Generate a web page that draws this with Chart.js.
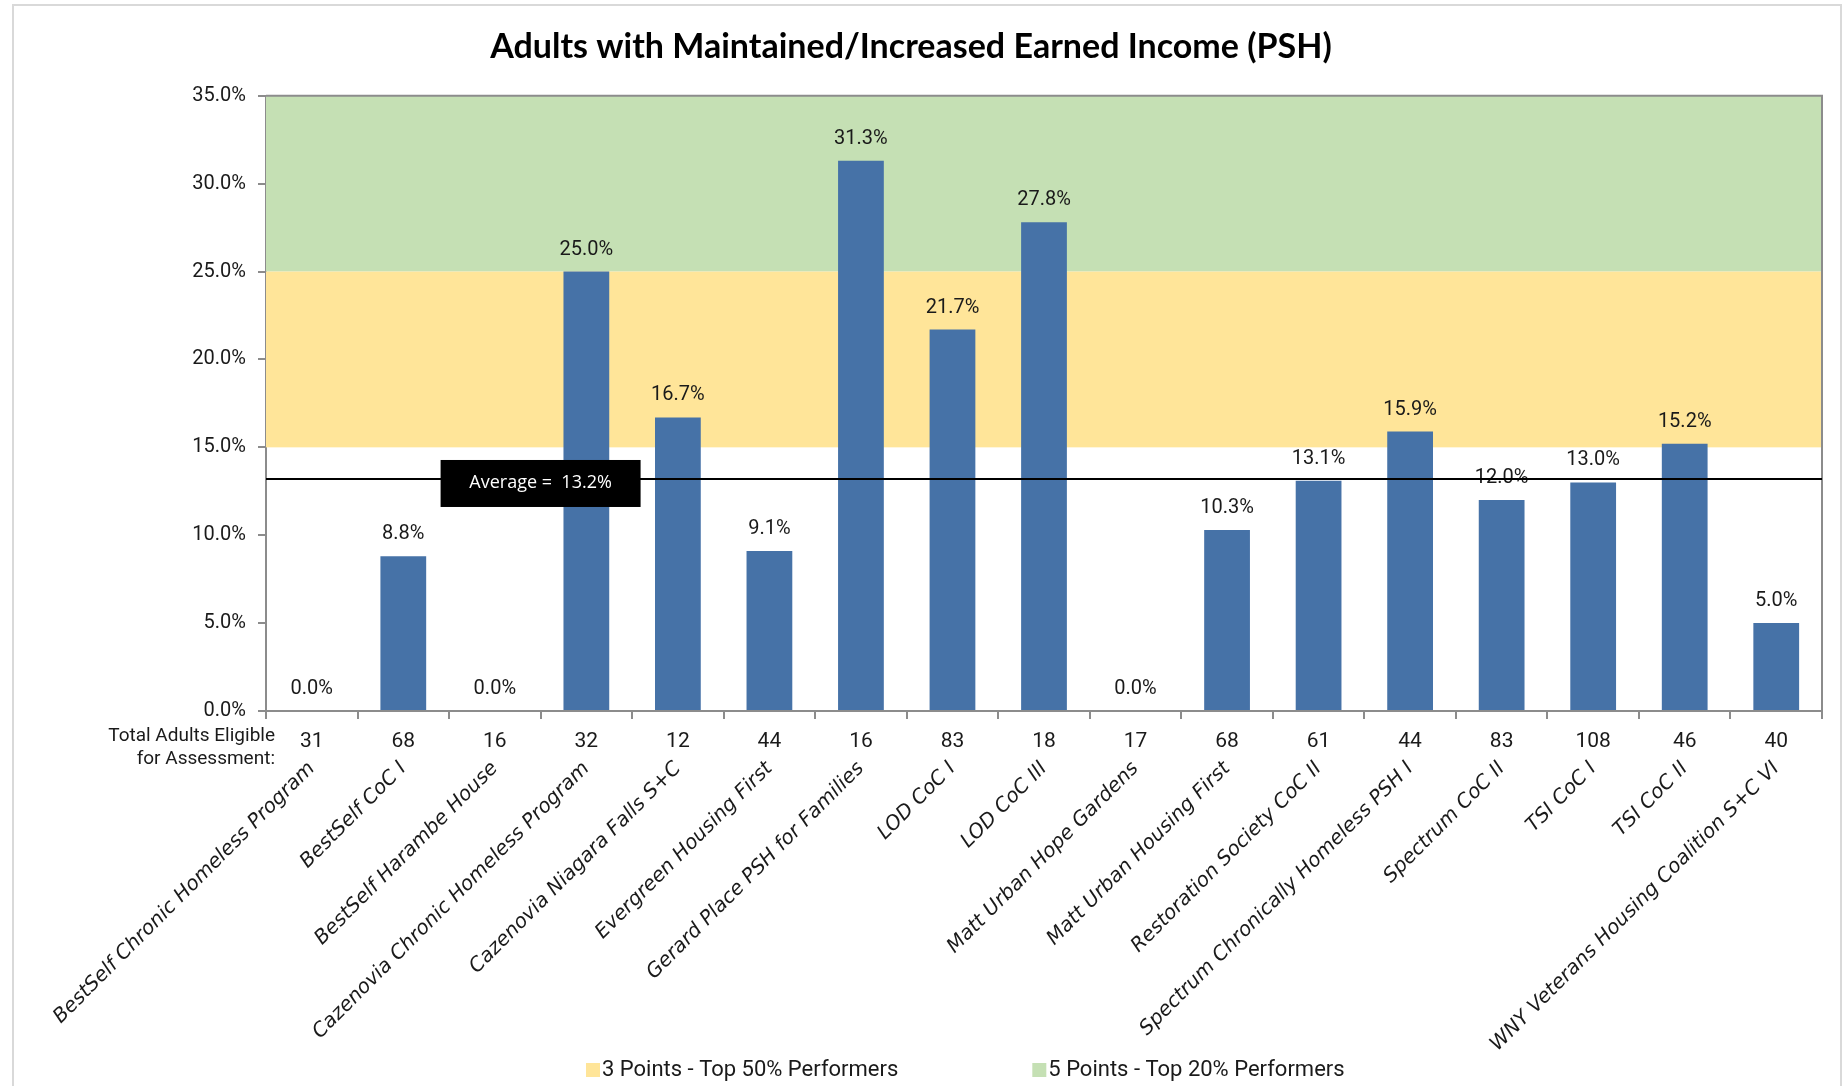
<!DOCTYPE html>
<html>
<head>
<meta charset="utf-8">
<title>Adults with Maintained/Increased Earned Income (PSH)</title>
<script src="https://cdn.jsdelivr.net/npm/chart.js@4.4.1/dist/chart.umd.min.js"></script>
<style>
    html, body { margin: 0; padding: 0; background: #ffffff; }
    canvas { display: block; }
</style>
</head>
<body>
<canvas id="incomeChart" width="1845" height="1086"></canvas>
<script>
const programs = [
    "BestSelf Chronic Homeless Program",
    "BestSelf CoC I",
    "BestSelf Harambe House",
    "Cazenovia Chronic Homeless Program",
    "Cazenovia Niagara Falls S+C",
    "Evergreen Housing First",
    "Gerard Place PSH for Families",
    "LOD CoC I",
    "LOD CoC III",
    "Matt Urban Hope Gardens",
    "Matt Urban Housing First",
    "Restoration Society CoC II",
    "Spectrum Chronically Homeless PSH I",
    "Spectrum CoC II",
    "TSI CoC I",
    "TSI CoC II",
    "WNY Veterans Housing Coalition S+C VI"
];

const earnedIncomePct = [0.0, 8.8, 0.0, 25.0, 16.7, 9.1, 31.3, 21.7, 27.8, 0.0, 10.3, 13.1, 15.9, 12.0, 13.0, 15.2, 5.0];

const adultsEligible = [31, 68, 16, 32, 12, 44, 16, 83, 18, 17, 68, 61, 44, 83, 108, 46, 40];

const averagePct = 13.2;
const top50Threshold = 15;
const top20Threshold = 25;
const yMax = 35;
const yStep = 5;

const legendLabels = ["3 Points - Top 50% Performers", "5 Points - Top 20% Performers"];


const YELLOW = "#FFE599";
const GREEN = "#C5E0B4";
const BAR_BLUE = "#4672A7";
const AXIS_GREY = "#8C8C8C";
const TEXT = "#1A1A1A";
const FONT = "Roboto, 'Liberation Sans', sans-serif";


// performance bands behind the bars
const bandsPlugin = {
    id: "bands",
    beforeDatasetsDraw: function (chart) {
        const ctx = chart.ctx;
        const area = chart.chartArea;
        const y = chart.scales.y;

        ctx.save();
        ctx.fillStyle = GREEN;
        ctx.fillRect(area.left, y.getPixelForValue(yMax), area.width,
            y.getPixelForValue(top20Threshold) - y.getPixelForValue(yMax));
        ctx.fillStyle = YELLOW;
        ctx.fillRect(area.left, y.getPixelForValue(top20Threshold), area.width,
            y.getPixelForValue(top50Threshold) - y.getPixelForValue(top20Threshold));
        ctx.restore();
    }
};


const overlayPlugin = {
    id: "overlay",
    afterDatasetsDraw: function (chart) {
        const ctx = chart.ctx;
        const area = chart.chartArea;
        const x = chart.scales.x;
        const y = chart.scales.y;
        const meta = chart.getDatasetMeta(0);

        ctx.save();

        // plot border (top + right)
        ctx.strokeStyle = AXIS_GREY;
        ctx.lineWidth = 2;
        ctx.beginPath();
        ctx.moveTo(area.left, area.top);
        ctx.lineTo(area.right, area.top);
        ctx.lineTo(area.right, area.bottom);
        ctx.stroke();

        // value labels
        ctx.font = "20px " + FONT;
        ctx.fillStyle = TEXT;
        ctx.textAlign = "center";
        ctx.textBaseline = "bottom";
        meta.data.forEach(function (bar, i) {
            ctx.fillText(earnedIncomePct[i].toFixed(1) + "%", bar.x, bar.y - 12);
        });

        // average line
        const avgY = y.getPixelForValue(averagePct);
        ctx.strokeStyle = "#000000";
        ctx.lineWidth = 2;
        ctx.beginPath();
        ctx.moveTo(area.left, avgY);
        ctx.lineTo(area.right, avgY);
        ctx.stroke();

        // average label box, centred between 3rd and 4th category
        const boxX = (x.getPixelForValue(2) + x.getPixelForValue(3)) / 2;
        ctx.fillStyle = "#000000";
        ctx.fillRect(boxX - 100, avgY - 19, 200, 47);
        ctx.fillStyle = "#FFFFFF";
        ctx.font = "18px 'Open Sans', sans-serif";
        ctx.textAlign = "center";
        ctx.textBaseline = "middle";
        ctx.fillText("Average =  " + averagePct.toFixed(1) + "%", boxX, avgY + 4);

        ctx.restore();
    },

    afterDraw: function (chart) {
        const ctx = chart.ctx;
        const area = chart.chartArea;
        const x = chart.scales.x;

        ctx.save();

        // counts row
        ctx.font = "21px " + FONT;
        ctx.fillStyle = TEXT;
        ctx.textAlign = "center";
        ctx.textBaseline = "middle";
        adultsEligible.forEach(function (n, i) {
            ctx.fillText(String(n), x.getPixelForValue(i), area.bottom + 31);
        });

        ctx.font = "19px " + FONT;
        ctx.textAlign = "right";
        ctx.fillText("Total Adults Eligible", area.left + 9, area.bottom + 25);
        ctx.fillText("for Assessment:", area.left + 9, area.bottom + 48);

        // legend
        const legendY = 1070;
        let lx = 586;
        const colors = [YELLOW, GREEN];
        ctx.font = "22px " + FONT;
        ctx.textAlign = "left";
        legendLabels.forEach(function (label, i) {
            ctx.fillStyle = colors[i];
            ctx.fillRect(lx, legendY - 7, 14, 14);
            ctx.fillStyle = TEXT;
            ctx.fillText(label, lx + 16, legendY);
            lx += 16 + ctx.measureText(label).width + 134;
        });

        // outer frame
        ctx.strokeStyle = "#D9D9D9";
        ctx.lineWidth = 2;
        ctx.strokeRect(13, 5, 1828, 1100);

        ctx.restore();
    }
};


new Chart(document.getElementById("incomeChart"), {
    type: "bar",

    data: {
        labels: programs,
        datasets: [
            {
                data: earnedIncomePct,
                backgroundColor: BAR_BLUE,
                borderWidth: 0,
                barPercentage: 0.5,
                categoryPercentage: 1.0
            }
        ]
    },

    options: {
        responsive: false,
        animation: false,
        devicePixelRatio: 1,
        layout: {
            padding: { left: 0, right: 23, top: 0, bottom: 0 }
        },

        plugins: {
            legend: { display: false },
            tooltip: { enabled: false },
            title: {
                display: true,
                text: "Adults with Maintained/Increased Earned Income (PSH)",
                color: "#000000",
                font: { family: "Lato, 'Open Sans', sans-serif", size: 34, weight: "bold" },
                padding: { top: 27, bottom: 28 }
            }
        },

        scales: {
            x: {
                grid: {
                    offset: true,
                    drawOnChartArea: false,
                    drawTicks: true,
                    tickLength: 8,
                    color: AXIS_GREY,
                    lineWidth: 2
                },
                border: { color: AXIS_GREY, width: 2 },
                ticks: {
                    autoSkip: false,
                    minRotation: 45,
                    maxRotation: 45,
                    padding: 38,
                    color: TEXT,
                    font: { family: "'DejaVu Sans', sans-serif", size: 20, style: "italic" }
                },
                afterFit: function (scale) {
                    scale.height = 1086 - 711;
                }
            },
            y: {
                min: 0,
                max: yMax,
                grid: {
                    drawOnChartArea: false,
                    drawTicks: true,
                    tickLength: 8,
                    color: AXIS_GREY,
                    lineWidth: 2
                },
                border: { color: AXIS_GREY, width: 2 },
                ticks: {
                    stepSize: yStep,
                    padding: 12,
                    color: TEXT,
                    font: { family: FONT, size: 20 },
                    callback: function (value) {
                        return value.toFixed(1) + "%";
                    }
                },
                afterFit: function (scale) {
                    scale.width = 266;
                }
            }
        }
    },

    plugins: [bandsPlugin, overlayPlugin]
});
</script>
</body>
</html>
